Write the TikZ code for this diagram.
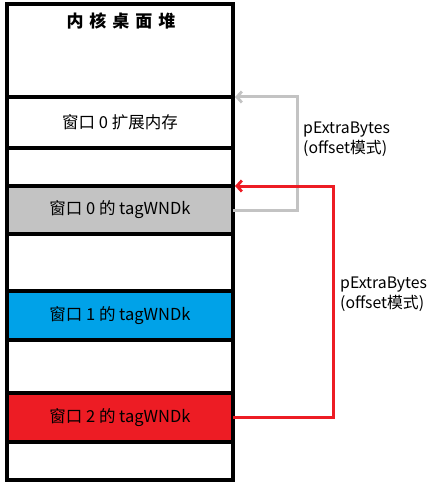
\documentclass[tikz,border=0pt]{standalone}
\usepackage{fontspec}
\setmainfont{Noto Sans CJK SC}
\usetikzlibrary{arrows.meta}
\definecolor{wgray}{HTML}{C3C3C3}
\definecolor{wblue}{HTML}{00A2E8}
\definecolor{wred}{HTML}{ED1C24}
\tikzset{
  band/.style={draw=black, line width=3.4pt, minimum width=226pt, inner sep=0pt, outer sep=0pt, font=\fontsize{16.5}{19}\selectfont},
  link/.style={line width=3pt, -{Straight Barb[length=5pt,width=11pt,line width=2.8pt]}},
  lbl/.style={anchor=north west, align=left, inner sep=0pt, font=\fontsize{15.8}{20}\selectfont}
}
\begin{document}
\begin{tikzpicture}[x=1pt,y=-1pt]
\useasboundingbox (0,0) rectangle (431,484);
\node[band, minimum height=93pt] (top) at (120,50.5) {};
\node[band, minimum height=51pt] (ext) at (120,122.5) {窗口 0 扩展内存};
\node[band, minimum height=38pt] (g1) at (120,167) {};
\node[band, minimum height=48pt, fill=wgray] (w0) at (120,210) {窗口 0 的 tagWNDk};
\node[band, minimum height=57pt] (g2) at (120,262.5) {};
\node[band, minimum height=49pt, fill=wblue] (w1) at (120,315.5) {窗口 1 的 tagWNDk};
\node[band, minimum height=53pt] (g3) at (120,366.5) {};
\node[band, minimum height=49pt, fill=wred] (w2) at (120,417.5) {窗口 2 的 tagWNDk};
\node[band, minimum height=38pt] (g4) at (120,461) {};
\node[font=\fontsize{17}{20}\selectfont\bfseries, inner sep=0pt] (title) at (121,21) {内\hspace{6pt}核\hspace{6pt}桌\hspace{6pt}面\hspace{6pt}堆};
\coordinate (ga) at (297,210);
\coordinate (gb) at (297,97);
\draw[link, draw=wgray] (w0.east) -- (ga) -- (gb) -- ([xshift=2pt]ext.north east);
\coordinate (ra) at (333,417.5);
\coordinate (rb) at (333,186);
\draw[link, draw=wred] (w2.east) -- (ra) -- (rb) -- ([xshift=2pt]w0.north east);
\node[lbl] (l1) at (303,122) {pExtraBytes\\(offset模式)};
\node[lbl] (l2) at (340,277) {pExtraBytes\\(offset模式)};
\end{tikzpicture}
\end{document}
